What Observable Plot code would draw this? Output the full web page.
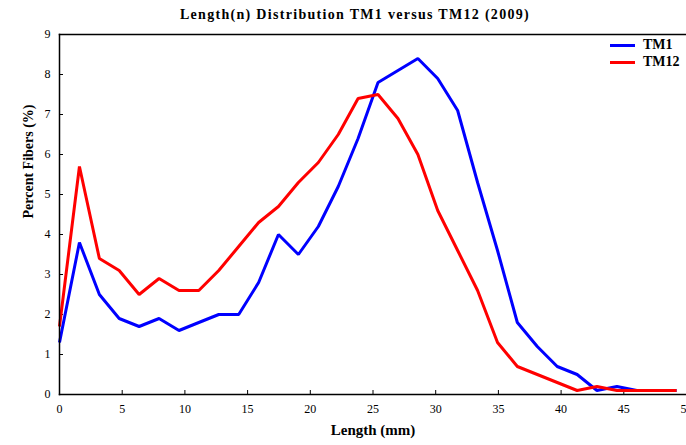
<!DOCTYPE html>
<html>
<head>
<meta charset="utf-8">
<script src="https://cdn.jsdelivr.net/npm/d3@7"></script>
<script src="https://cdn.jsdelivr.net/npm/@observablehq/plot@0.6"></script>
<style>
  html, body { margin: 0; padding: 0; background: #fff; }
  #wrap { position: relative; width: 686px; height: 445px; overflow: hidden; font-family: "Liberation Serif", "Times New Roman", serif; }
  #title { position: absolute; left: 0; width: 710px; top: 6px; text-align: center; font-weight: bold; font-size: 14px; letter-spacing: 1.3px; line-height: 17px; }
  .leg { position: absolute; left: 610px; font-weight: bold; font-size: 14px; line-height: 16px; }
  .leg .sw { position: absolute; left: 0; top: 7px; width: 25px; height: 3px; }
  .leg .lb { position: absolute; left: 33px; top: 0; white-space: nowrap; }
</style>
</head>
<body>
<div id="wrap">
  <div id="chart"></div>
  <div id="title"></div>
  <div id="legend"></div>
</div>
<script>
// ---- data ----
const titleText = "Length(n) Distribution TM1 versus TM12 (2009)";
const xLabel = "Length (mm)";
const yLabel = "Percent Fibers (%)";
const seriesNames = ["TM1", "TM12"];
const seriesColors = ["#0000ff", "#ff0000"];
const lengths = [0, 1.59, 3.18, 4.76, 6.35, 7.94, 9.53, 11.11, 12.7, 14.29, 15.88, 17.46, 19.05, 20.64, 22.23, 23.81,
                 25.4, 26.99, 28.58, 30.16, 31.75, 33.34, 34.93, 36.51, 38.1, 39.69, 41.28, 42.86, 44.45, 46.04, 47.63, 49.21];
const tm1  = [1.3, 3.8, 2.5, 1.9, 1.7, 1.9, 1.6, 1.8, 2.0, 2.0, 2.8, 4.0, 3.5, 4.2, 5.2, 6.4,
              7.8, 8.1, 8.4, 7.9, 7.1, 5.3, 3.6, 1.8, 1.2, 0.7, 0.5, 0.1, 0.2, 0.1, 0.1, 0.1];
const tm12 = [1.7, 5.7, 3.4, 3.1, 2.5, 2.9, 2.6, 2.6, 3.1, 3.7, 4.3, 4.7, 5.3, 5.8, 6.5, 7.4,
              7.5, 6.9, 6.0, 4.6, 3.6, 2.6, 1.3, 0.7, 0.5, 0.3, 0.1, 0.2, 0.1, 0.1, 0.1, 0.1];
const xTicks = [0, 5, 10, 15, 20, 25, 30, 35, 40, 45, 50];
const yTicks = [0, 1, 2, 3, 4, 5, 6, 7, 8, 9];

// ---- build table ----
const seriesValues = [tm1, tm12];
const rows = [];
seriesNames.forEach((name, s) => {
  lengths.forEach((x, i) => rows.push({series: name, x, y: seriesValues[s][i]}));
});

const W = 686, H = 445, mL = 59, mR = 0, mT = 34, mB = 51;
const frameW = W - mL - mR, frameH = H - mT - mB;

const chart = Plot.plot({
  width: W, height: H,
  marginLeft: mL, marginRight: mR, marginTop: mT, marginBottom: mB,
  x: {domain: [0, 50]},
  y: {domain: [0, 9]},
  color: {domain: seriesNames, range: seriesColors},
  style: {fontFamily: "'Liberation Serif', 'Times New Roman', serif", fontSize: "12px", background: "#fff", color: "#000"},
  marks: [
    Plot.axisX(xTicks, {tickSize: 0, tickPadding: 10, label: null, fontSize: 12}),
    Plot.axisY(yTicks, {tickSize: 0, tickPadding: 9, label: null, fontSize: 12}),
    Plot.tickX(xTicks, {x: d => d, insetTop: frameH - 4, stroke: "#000", strokeWidth: 1}),
    Plot.tickY(yTicks, {y: d => d, insetRight: frameW - 4, stroke: "#000", strokeWidth: 1}),
    Plot.line(rows, {x: "x", y: "y", z: "series", stroke: "series", strokeWidth: 3, strokeLinejoin: "miter", strokeLinecap: "butt"}),
    Plot.frame({anchor: "left", stroke: "#000", strokeWidth: 1.5}),
    Plot.frame({anchor: "top", stroke: "#000", strokeWidth: 1.5}),
    Plot.frame({anchor: "bottom", stroke: "#000", strokeWidth: 1.5}),
    Plot.text([xLabel], {text: d => d, frameAnchor: "bottom", dy: 40, fontWeight: "bold", fontSize: 15, letterSpacing: "0.8px"}),
    Plot.text([yLabel], {text: d => d, frameAnchor: "left", rotate: -90, dx: -31, dy: 4, fontWeight: "bold", fontSize: 14, letterSpacing: "0.3px"})
  ]
});
document.getElementById("chart").appendChild(chart);
document.getElementById("title").textContent = titleText;

const legend = document.getElementById("legend");
seriesNames.forEach((name, i) => {
  const item = document.createElement("div");
  item.className = "leg";
  item.style.top = (37 + i * 17) + "px";
  const sw = document.createElement("div");
  sw.className = "sw";
  sw.style.background = seriesColors[i];
  const lb = document.createElement("div");
  lb.className = "lb";
  lb.textContent = name;
  item.appendChild(sw);
  item.appendChild(lb);
  legend.appendChild(item);
});
</script>
</body>
</html>
